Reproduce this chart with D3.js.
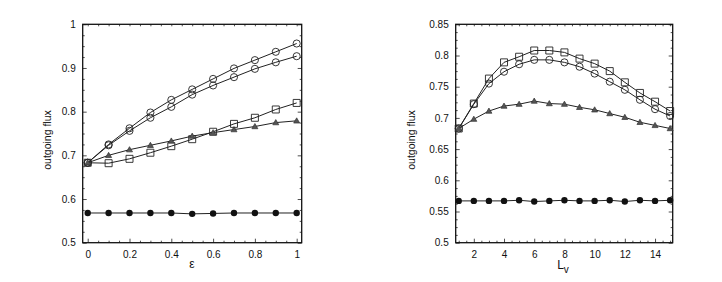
<!DOCTYPE html>
<html>
<head>
  <meta charset="utf-8">
  <title>outgoing flux</title>
  <style>
    body { margin: 0; background: #fff; }
    text { font-family: "Liberation Sans", Arial, sans-serif; }
  </style>
</head>
<body>
  <svg width="722" height="282"></svg>
  <script src="https://d3js.org/d3.v7.min.js"></script>
  <script>
  // data
  var eps = [0, 0.1, 0.2, 0.3, 0.4, 0.5, 0.6, 0.7, 0.8, 0.9, 1];
  var epsCircleA = [0.683, 0.725, 0.762, 0.798, 0.827, 0.851, 0.875, 0.899, 0.918, 0.937, 0.956];
  var epsCircleB = [0.683, 0.723, 0.756, 0.786, 0.811, 0.839, 0.860, 0.879, 0.898, 0.913, 0.927];
  var epsSquare  = [0.683, 0.682, 0.692, 0.706, 0.721, 0.737, 0.754, 0.772, 0.786, 0.805, 0.820];
  var epsTri     = [0.683, 0.700, 0.713, 0.723, 0.733, 0.744, 0.752, 0.759, 0.766, 0.775, 0.779];
  var epsDot     = [0.568, 0.568, 0.568, 0.568, 0.568, 0.566, 0.567, 0.568, 0.568, 0.568, 0.568];

  var lv = [1, 2, 3, 4, 5, 6, 7, 8, 9, 10, 11, 12, 13, 14, 15];
  var lvSquare = [0.683, 0.723, 0.763, 0.789, 0.798, 0.808, 0.808, 0.805, 0.795, 0.787, 0.775, 0.757, 0.740, 0.726, 0.711];
  var lvCircle = [0.683, 0.722, 0.755, 0.774, 0.786, 0.793, 0.793, 0.789, 0.782, 0.771, 0.758, 0.745, 0.729, 0.714, 0.703];
  var lvTri    = [0.683, 0.698, 0.711, 0.719, 0.722, 0.727, 0.723, 0.722, 0.717, 0.713, 0.707, 0.701, 0.693, 0.688, 0.683];
  var lvDot    = [0.567, 0.567, 0.567, 0.567, 0.568, 0.566, 0.567, 0.568, 0.567, 0.567, 0.568, 0.566, 0.568, 0.567, 0.568];

  var epsXTicks = [0, 0.2, 0.4, 0.6, 0.8, 1];
  var epsYTicks = [0.5, 0.6, 0.7, 0.8, 0.9, 1];
  var lvXTicks = [2, 4, 6, 8, 10, 12, 14];
  var lvYTicks = [0.5, 0.55, 0.6, 0.65, 0.7, 0.75, 0.8, 0.85];

  var svg = d3.select('svg');

  function minorTicks(major, n) {
    var out = [];
    for (var i = 0; i < major.length - 1; i++) {
      var step = (major[i + 1] - major[i]) / n;
      for (var k = 1; k < n; k++) out.push(+(major[i] + k * step).toFixed(5));
    }
    return out;
  }

  function panel(opt) {
    var x = d3.scaleLinear().domain(opt.xDomain).range([opt.left, opt.right]);
    var y = d3.scaleLinear().domain(opt.yDomain).range([opt.bottom, opt.top]);
    var g = svg.append('g');

    var xMinor = opt.xMinor, yMinor = opt.yMinor;
    var fmt = d3.format('~g');

    // ticks on all four sides, pointing inward
    g.append('g').attr('transform', 'translate(0,' + opt.bottom + ')')
      .call(d3.axisBottom(x).tickValues(opt.xTicks).tickSize(-4).tickPadding(8).tickFormat(fmt));
    g.append('g').attr('transform', 'translate(0,' + opt.bottom + ')')
      .call(d3.axisBottom(x).tickValues(xMinor).tickSize(-2).tickFormat(''));
    g.append('g').attr('transform', 'translate(0,' + opt.top + ')')
      .call(d3.axisTop(x).tickValues(opt.xTicks.concat(xMinor)).tickSize(-2).tickFormat(''));
    g.append('g').attr('transform', 'translate(' + opt.left + ',0)')
      .call(d3.axisLeft(y).tickValues(opt.yTicks).tickSize(-4).tickPadding(7).tickFormat(fmt));
    g.append('g').attr('transform', 'translate(' + opt.left + ',0)')
      .call(d3.axisLeft(y).tickValues(yMinor).tickSize(-2).tickFormat(''));
    g.append('g').attr('transform', 'translate(' + opt.right + ',0)')
      .call(d3.axisRight(y).tickValues(opt.yTicks).tickSize(-4).tickFormat(''));
    g.append('g').attr('transform', 'translate(' + opt.right + ',0)')
      .call(d3.axisRight(y).tickValues(yMinor).tickSize(-2).tickFormat(''));

    g.selectAll('.domain').remove();
    g.selectAll('.tick line').attr('stroke', '#222').attr('stroke-width', 0.8);
    g.selectAll('.tick text').style('font-size', '10px').attr('fill', '#111');

    g.append('rect')
      .attr('x', opt.left).attr('y', opt.top)
      .attr('width', opt.right - opt.left).attr('height', opt.bottom - opt.top)
      .attr('fill', 'none').attr('stroke', '#111').attr('stroke-width', 1.3);

    var line = d3.line()
      .x(function(d) { return x(d[0]); })
      .y(function(d) { return y(d[1]); });

    opt.series.forEach(function(s) {
      var pts = opt.xs.map(function(v, i) { return [v, s.values[i]]; });
      g.append('path').datum(pts)
        .attr('d', line)
        .attr('fill', 'none').attr('stroke', '#222').attr('stroke-width', 1);

      var m = g.append('g').selectAll('path').data(pts).enter().append('path')
        .attr('transform', function(d) { return 'translate(' + x(d[0]) + ',' + y(d[1]) + ')'; });
      if (s.shape === 'circle') {
        m.attr('d', d3.symbol().type(d3.symbolCircle).size(40)())
          .attr('fill', 'none').attr('stroke', '#222').attr('stroke-width', 0.9);
      } else if (s.shape === 'square') {
        m.attr('d', 'M-3.5,-3.5H3.5V3.5H-3.5Z')
          .attr('fill', 'none').attr('stroke', '#222').attr('stroke-width', 0.9);
      } else if (s.shape === 'triangle') {
        m.attr('d', 'M0,-3L3,2.2H-3Z')
          .attr('fill', '#555').attr('stroke', '#333').attr('stroke-width', 0.7);
      } else {
        m.attr('d', d3.symbol().type(d3.symbolCircle).size(32)())
          .attr('fill', '#111');
      }
    });

    // axis title
    g.append('text')
      .attr('transform', 'translate(' + opt.yLabelX + ',140) rotate(-90)')
      .attr('text-anchor', 'middle')
      .attr('fill', '#111')
      .style('font-size', '10.5px')
      .text('outgoing flux');
    return g;
  }

  var left = panel({
    left: 82.7, right: 301.7, top: 24.3, bottom: 242.7,
    xDomain: [-0.024, 1.024], yDomain: [0.5, 1],
    xTicks: epsXTicks, yTicks: epsYTicks,
    xMinor: minorTicks(epsXTicks, 4),
    yMinor: minorTicks(epsYTicks, 4),
    xs: eps,
    yLabelX: 51,
    series: [
      { shape: 'circle', values: epsCircleA },
      { shape: 'circle', values: epsCircleB },
      { shape: 'square', values: epsSquare },
      { shape: 'triangle', values: epsTri },
      { shape: 'dot', values: epsDot }
    ]
  });
  left.append('text')
    .attr('x', 192).attr('y', 268)
    .attr('text-anchor', 'middle')
    .attr('fill', '#111')
    .style('font-size', '12px')
    .text('ε');

  var right = panel({
    left: 455.7, right: 672.7, top: 24.3, bottom: 242.7,
    xDomain: [0.8, 15.17], yDomain: [0.5, 0.85],
    xTicks: lvXTicks, yTicks: lvYTicks,
    xMinor: [1, 1.5].concat(minorTicks(lvXTicks, 4)).concat([14.5, 15]),
    yMinor: minorTicks(lvYTicks, 4),
    xs: lv,
    yLabelX: 415,
    series: [
      { shape: 'square', values: lvSquare },
      { shape: 'circle', values: lvCircle },
      { shape: 'triangle', values: lvTri },
      { shape: 'dot', values: lvDot }
    ]
  });
  var lt = right.append('text')
    .attr('x', 563).attr('y', 269)
    .attr('text-anchor', 'middle')
    .attr('fill', '#111')
    .style('font-size', '12px');
  lt.append('tspan').text('L');
  lt.append('tspan').attr('dy', 4).style('font-size', '10px').text('v');
  </script>
</body>
</html>
